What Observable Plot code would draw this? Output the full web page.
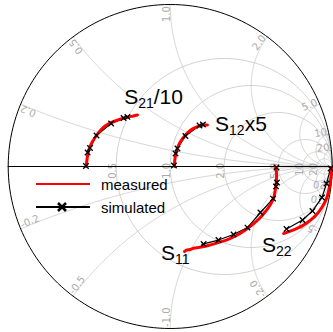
<!DOCTYPE html>
<html><head><meta charset="utf-8">
<script src="https://cdn.jsdelivr.net/npm/d3@7"></script>
<script src="https://cdn.jsdelivr.net/npm/@observablehq/plot@0.6"></script>
<style>body{margin:0;background:#fff}#chart{width:333px;height:332px}</style>
</head><body><div id="chart"></div>
<script>
// ---- grid values (normalised impedance) ----
const resistanceValues = [0.5, 1, 2, 5, 10, 20];
const resistanceLabels = ["0.5", "1.0", "2.0", "5.0", "10", "20"];
const reactanceValues = [0.2, 0.5, 1, 2, 5, 10, 20];
const reactanceLabels = ["0.2", "0.5", "1.0", "2.0", "5.0", "10", "20"];

// ---- S-parameter traces (reflection-plane coordinates) ----
const s21MeasRe = [-0.517,-0.515,-0.510,-0.501,-0.486,-0.464,-0.436,-0.406,-0.369,-0.331,-0.294,-0.257,-0.227,-0.202];
const s21MeasIm = [0.000,0.031,0.068,0.105,0.142,0.179,0.216,0.247,0.269,0.284,0.296,0.306,0.312,0.318];
const s21SimRe = [-0.520,-0.510,-0.495,-0.455,-0.365,-0.288,-0.264];
const s21SimIm = [0.003,0.086,0.114,0.191,0.265,0.299,0.306];

const s12MeasRe = [0.027,0.028,0.033,0.042,0.057,0.082,0.110,0.144,0.181,0.212,0.230];
const s12MeasIm = [0.000,0.037,0.068,0.105,0.142,0.179,0.210,0.235,0.250,0.256,0.256];
const s12SimRe = [0.023,0.033,0.045,0.094,0.181,0.202];
const s12SimIm = [0.006,0.080,0.111,0.188,0.253,0.259];

const s11MeasRe = [0.650,0.656,0.656,0.650,0.641,0.619,0.588,0.551,0.508,0.459,0.409,0.354,0.298,0.236,0.175,0.150,0.125,0.100,0.088];
const s11MeasIm = [-0.003,-0.037,-0.086,-0.136,-0.185,-0.235,-0.278,-0.321,-0.358,-0.395,-0.426,-0.451,-0.469,-0.488,-0.500,-0.503,-0.512,-0.516,-0.525];
const s11SimRe = [0.656,0.659,0.653,0.635,0.557,0.477,0.391,0.298,0.206,0.195];
const s11SimIm = [-0.006,-0.099,-0.123,-0.198,-0.284,-0.377,-0.420,-0.454,-0.478,-0.481];
const s11MarkCount = 9;

const s22MeasRe = [0.996,0.996,0.990,0.980,0.965,0.940,0.909,0.872,0.829,0.780,0.736,0.700];
const s22MeasIm = [-0.006,-0.037,-0.086,-0.142,-0.198,-0.247,-0.290,-0.327,-0.358,-0.383,-0.401,-0.414];
const s22SimRe = [0.990,0.965,0.937,0.878,0.817,0.718];
const s22SimIm = [-0.012,-0.105,-0.191,-0.275,-0.330,-0.386];

// ---- series labels ----
const labelMain = ["S", "S", "S", "S"];
const labelSub = ["21", "12", "11", "22"];
const labelRest = ["/10", "x5", "", ""];
const labelRe = [-0.281, 0.280, -0.054, 0.570];
const labelIm = [0.383, 0.216, -0.580, -0.531];

// ---- build tables ----
const toPts = (re, im, name) => re.map((v, i) => ({re: v, im: im[i], s: name}));
const meas = [
  ...toPts(s21MeasRe, s21MeasIm, "S21"), ...toPts(s12MeasRe, s12MeasIm, "S12"),
  ...toPts(s11MeasRe, s11MeasIm, "S11"), ...toPts(s22MeasRe, s22MeasIm, "S22")];
const sim = [
  ...toPts(s21SimRe, s21SimIm, "S21"), ...toPts(s12SimRe, s12SimIm, "S12"),
  ...toPts(s11SimRe, s11SimIm, "S11"), ...toPts(s22SimRe, s22SimIm, "S22")];
const simMarks = [
  ...toPts(s21SimRe, s21SimIm, "S21"), ...toPts(s12SimRe, s12SimIm, "S12"),
  ...toPts(s11SimRe.slice(0, s11MarkCount), s11SimIm.slice(0, s11MarkCount), "S11"),
  ...toPts(s22SimRe, s22SimIm, "S22")];

// resistance circles
const rCircle = (r) => d3.range(0, 361, 2).map(a => {
  const c = r / (r + 1), rad = 1 / (r + 1), t = a * Math.PI / 180;
  return {re: c + rad * Math.cos(t), im: rad * Math.sin(t), k: r};
});
const rGrid = resistanceValues.flatMap(rCircle);
const unitCircle = rCircle(0);

// reactance arcs
const xArc = (X) => {
  const pts = d3.range(0, 0.9995, 0.0025).map(t => {
    const R = t / (1 - t), D = (R + 1) ** 2 + X * X;
    return {re: (R * R - 1 + X * X) / D, im: 2 * X / D, k: X};
  });
  pts.push({re: 1, im: 0, k: X});
  return pts;
};
const allX = [...reactanceValues, ...reactanceValues.map(v => -v)];
const xGrid = allX.flatMap(xArc);

// labels
const rLab = resistanceValues.map((r, i) => ({re: (r - 1) / (r + 1), im: 0.022, t: resistanceLabels[i]}));
const xLabPos = reactanceValues.map((X, i) => {
  const th = Math.atan2(2 * X, X * X - 1);
  return {re: 0.99 * Math.cos(th), im: 0.99 * Math.sin(th), t: reactanceLabels[i], rot: -th * 180 / Math.PI};
});
const xLabNeg = reactanceValues.map((X, i) => {
  const th = Math.atan2(-2 * X, X * X - 1);
  return {re: 0.99 * Math.cos(th), im: 0.99 * Math.sin(th), t: "-" + reactanceLabels[i], rot: -th * 180 / Math.PI - 180};
});

const gridColor = "#c6c6c6", labColor = "#ababab";
const plot = Plot.plot({
  width: 333, height: 332,
  marginLeft: 7.7, marginRight: 1.3, marginTop: 4, marginBottom: 4,
  x: {domain: [-1, 1], axis: null},
  y: {domain: [-1, 1], axis: null},
  marks: [
    Plot.line(rGrid, {x: "re", y: "im", z: "k", stroke: gridColor, strokeWidth: 0.8}),
    Plot.line(xGrid, {x: "re", y: "im", z: "k", stroke: gridColor, strokeWidth: 0.8}),
    Plot.text(rLab, {x: "re", y: "im", text: "t", rotate: -90, textAnchor: "end", lineAnchor: "bottom",
      fill: labColor, fontSize: 10, fontFamily: "DejaVu Sans"}),
    Plot.text(xLabPos, {x: "re", y: "im", text: "t", rotate: "rot", textAnchor: "end", lineAnchor: "bottom",
      fill: labColor, fontSize: 10, fontFamily: "DejaVu Sans"}),
    Plot.text(xLabNeg, {x: "re", y: "im", text: "t", rotate: "rot", textAnchor: "start", lineAnchor: "bottom",
      fill: labColor, fontSize: 10, fontFamily: "DejaVu Sans"}),
    Plot.line(unitCircle, {x: "re", y: "im", stroke: "#000", strokeWidth: 1}),
    Plot.ruleY([0], {x1: -1, x2: 1, stroke: "#000", strokeWidth: 1}),
    Plot.line(sim, {x: "re", y: "im", z: "s", stroke: "#000", strokeWidth: 1.2}),
    Plot.line(meas, {x: "re", y: "im", z: "s", stroke: "#ff0000", strokeWidth: 3, curve: "catmull-rom"}),
    Plot.dot(simMarks, {x: "re", y: "im", symbol: "times", r: 2.6, stroke: "#000", strokeWidth: 1.3})
  ]
});

const svg = d3.select(plot);
const sx = plot.scale("x"), sy = plot.scale("y");
const font = "Liberation Sans, Arial, sans-serif";
labelMain.forEach((m, i) => {
  const t = svg.append("text").attr("x", sx.apply(labelRe[i])).attr("y", sy.apply(labelIm[i]))
    .attr("text-anchor", "start").attr("font-family", font).attr("font-size", 21).attr("fill", "#000");
  t.append("tspan").text(m);
  t.append("tspan").attr("font-size", 14).attr("dy", 4).text(labelSub[i]);
  if (labelRest[i]) t.append("tspan").attr("dy", -4).text(labelRest[i]);
});

// legend
const legendNames = ["measured", "simulated"];
const leg = svg.append("g").attr("text-anchor", "start");
leg.append("line").attr("x1", 36).attr("x2", 90).attr("y1", 184).attr("y2", 184).attr("stroke", "#ff0000").attr("stroke-width", 2.2);
leg.append("line").attr("x1", 36).attr("x2", 90).attr("y1", 207).attr("y2", 207).attr("stroke", "#000").attr("stroke-width", 2);
leg.append("path").attr("d", "M58,203L66,211M58,211L66,203").attr("stroke", "#000").attr("stroke-width", 2.6);
leg.append("text").attr("x", 101).attr("y", 189.5).attr("font-family", font).attr("font-size", 15).text(legendNames[0]);
leg.append("text").attr("x", 101).attr("y", 212.5).attr("font-family", font).attr("font-size", 15).text(legendNames[1]);

document.getElementById("chart").appendChild(plot);
</script>
</body></html>
